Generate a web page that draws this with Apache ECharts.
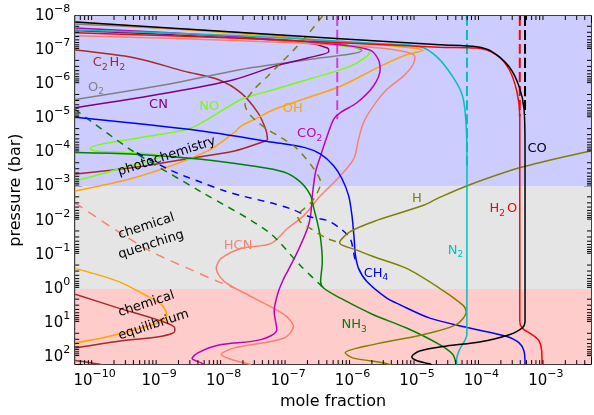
<!DOCTYPE html>
<html><head><meta charset="utf-8">
<script src="https://cdn.jsdelivr.net/npm/echarts@6/dist/echarts.min.js"></script>
<style>html,body{margin:0;padding:0;background:#fff}#c{width:594px;height:415px}</style>
</head><body><div id="c"></div>
<script>
// ---- axis ticks ----
const xTickValues = [1e-10, 1e-9, 1e-8, 1e-7, 1e-6, 1e-5, 1e-4, 1e-3];
const xTickExps = ['\u221210', '\u22129', '\u22128', '\u22127', '\u22126', '\u22125', '\u22124', '\u22123'];
const yTickValues = [1e-8, 1e-7, 1e-6, 1e-5, 1e-4, 1e-3, 1e-2, 1e-1, 1, 10, 100];
const yTickExps = ['\u22128', '\u22127', '\u22126', '\u22125', '\u22124', '\u22123', '\u22122', '\u22121', '0', '1', '2'];
const xRange = [5e-11, 5e-3];
const yRange = [1e-8, 160];
const bandEdges = [1e-8, 1e-3, 1, 160]; // photochemistry / quenching / equilibrium

// ---- profiles: [mole fraction, pressure(bar)] ----
const coSolid = [[5.0e-11,1.5e-8],[1.87e-8,3.06e-8],[2.25e-5,7.0e-8],[8.4e-5,8.0e-8],[1.47e-4,1.12e-7],[2.69e-4,3.06e-7],[3.84e-4,1.17e-6],[4.58e-4,5.5e-6],[4.74e-4,8.0e-5],[4.74e-4,8.8],[4.27e-4,14],[2.69e-4,22],[9.3e-5,36],[2.9e-5,47],[1.1e-5,66],[8.3e-6,98],[1.0e-5,128],[1.58e-5,157],[1.7e-5,170]];
const coDashed = [[4.74e-4,1e-8],[4.74e-4,8e-6]];
const h2oSolid = [[5.0e-11,3.1e-8],[1.87e-8,4.5e-8],[2.25e-5,8.2e-8],[8.4e-5,8.7e-8],[1.7e-4,1.37e-7],[2.69e-4,3.7e-7],[3.57e-4,1.75e-6],[3.93e-4,8.7e-6],[3.93e-4,8.8],[4.27e-4,14],[6.1e-4,22],[7.8e-4,33],[8.6e-4,66],[8.7e-4,170]];
const h2oDashed = [[3.93e-4,1e-8],[3.93e-4,8.7e-6]];
const n2Solid = [[5.0e-11,2.56e-8],[1.87e-8,3.8e-8],[2.68e-6,6.5e-8],[1.1e-5,7.8e-8],[2.0e-5,1.53e-7],[3.56e-5,5.9e-7],[5.1e-5,2.24e-6],[5.8e-5,1.68e-5],[5.96e-5,2.45e-4],[5.94e-5,22],[5.46e-5,34],[4.57e-5,60],[4.15e-5,105],[4.1e-5,170]];
const n2Dashed = [[5.96e-5,1e-8],[5.96e-5,2.45e-4]];
const ch4Solid = [[5.0e-11,9.35e-6],[4.5e-9,2.34e-5],[5.4e-8,4.9e-5],[1.77e-7,7.1e-5],[3.2e-7,1.12e-4],[5.1e-7,2.45e-4],[6.9e-7,6.0e-4],[8.7e-7,1.84e-3],[9.8e-7,7.0e-3],[1.06e-6,0.0335],[1.11e-6,0.103],[1.24e-6,0.25],[1.67e-6,0.61],[3.4e-6,1.87],[5.4e-6,2.9],[1.58e-5,7.2],[6.5e-5,14],[2.4e-4,24.4],[3.84e-4,38],[4.58e-4,67],[4.74e-4,170]];
const ch4Dashed = [[4.5e-10,1.02e-4],[1.55e-9,3.4e-4],[4.5e-9,7.5e-4],[1.0e-8,1.31e-3],[1.84e-8,1.84e-3],[5.4e-8,3.0e-3],[1.1e-7,4.5e-3],[2.24e-7,7.8e-3],[4.05e-7,9.8e-3],[6.5e-7,0.017],[9.2e-7,0.0335],[1.06e-6,0.103],[1.11e-6,0.157]];
const nh3Solid = [[5.0e-11,1.0e-4],[4.2e-10,1.12e-4],[4.5e-9,1.57e-4],[2.67e-8,2.45e-4],[8.6e-8,3.74e-4],[1.55e-7,7.3e-4],[2.24e-7,1.84e-3],[2.52e-7,4.5e-3],[2.84e-7,0.0109],[3.2e-7,0.0335],[3.4e-7,0.16],[3.2e-7,0.61],[3.6e-7,0.958],[6.5e-7,1.87],[2.1e-6,5.7],[6.9e-6,14],[2.25e-5,43],[3.6e-5,84],[4.06e-5,170]];
const nh3Dashed = [[5.0e-11,5.5e-6],[4.2e-10,1.0e-4],[4.5e-9,1.43e-3],[4.9e-8,0.021],[1.55e-7,0.205],[3.6e-7,0.958]];
const hSolid = [[4.93e-3,9.0e-5],[4.27e-4,2.68e-4],[5.86e-5,9.6e-4],[2.02e-5,2.3e-3],[1.23e-5,3.6e-3],[2.09e-6,0.0107],[9.2e-7,0.021],[6.3e-7,0.044],[1.17e-6,0.073],[2.09e-6,0.112],[6.9e-6,0.25],[2.25e-5,0.957],[5.1e-5,2.94],[5.8e-5,4.57],[4.06e-5,11.2],[1.23e-5,22],[2.09e-6,43],[7.7e-7,75],[1.0e-6,105],[2.98e-6,147],[4.0e-6,170]];
const hDashed = [[3.43e-7,1e-8],[2.0e-7,3.57e-8],[1.22e-7,1e-7],[7.8e-8,2.34e-7],[4.8e-8,5.9e-7],[2.96e-8,1.43e-6],[2.15e-8,3.9e-6],[2.67e-8,8.6e-6],[4.8e-8,2.1e-5],[7.8e-8,3.65e-5],[1.4e-7,8.0e-5],[2.52e-7,3.06e-4],[3.2e-7,7.5e-4],[2.52e-7,2.3e-3],[1.77e-7,4.5e-3],[1.4e-7,7.0e-3],[1.55e-7,0.0109],[2.24e-7,0.017],[4.05e-7,0.0335],[6.3e-7,0.044]];
const co2Solid = [[5.0e-11,2.24e-8],[1.87e-8,4.1e-8],[6.5e-7,7.0e-8],[1.88e-6,1.0e-7],[2.52e-6,1.91e-7],[2.68e-6,3.7e-7],[2.1e-6,1.15e-6],[1.17e-6,3.5e-6],[6.5e-7,6.8e-6],[5.1e-7,1.07e-5],[4.05e-7,3.3e-5],[3.2e-7,1.25e-4],[2.67e-7,3.8e-4],[2.38e-7,1.84e-3],[2.24e-7,7.0e-3],[2.0e-7,0.017],[1.4e-7,0.082],[9.8e-8,0.31],[8.6e-8,0.49],[6.95e-8,1.34],[6.1e-8,4.57],[6.7e-8,15.7],[3.8e-8,30.7],[8.2e-9,44.7],[4.0e-9,75],[3.25e-9,110],[4.5e-9,147],[5.0e-9,170]];
const co2Dashed = [[5.8e-7,1e-8],[5.8e-7,1.07e-5]];
const hcnSolid = [[5.0e-11,3.8e-8],[1.87e-8,5.3e-8],[2.68e-6,8.6e-8],[9.3e-6,1.53e-7],[8.7e-6,2.67e-7],[6.1e-6,5.9e-7],[3.4e-6,1.43e-6],[2.1e-6,4.4e-6],[1.48e-6,1.34e-5],[1.24e-6,4.1e-5],[1.04e-6,1.57e-4],[5.8e-7,6.0e-4],[3.2e-7,1.84e-3],[1.77e-7,7.0e-3],[9.8e-8,0.017],[5.4e-8,0.047],[1.86e-8,0.065],[9.2e-9,0.128],[7.7e-9,0.25],[1.03e-8,0.61],[3.0e-8,1.87],[8.7e-8,5.7],[1.21e-7,12.5],[8.7e-8,27.4],[1.48e-8,53.6],[9.2e-9,84],[1.32e-8,117],[2.37e-8,157],[2.7e-8,170]];
const hcnDashed = [[5.0e-11,3.0e-3],[2.36e-10,0.0214],[7.7e-10,0.082],[2.8e-9,0.25],[8.2e-9,0.61],[1.57e-8,1.0]];
const c2h2Upper = [[5.0e-11,1.0e-7],[4.25e-10,1.7e-7],[2.5e-9,4.2e-7],[8.2e-9,7.3e-7],[1.86e-8,1.79e-6],[3.4e-8,6.8e-6],[4.5e-8,2.1e-5],[4.8e-8,4.1e-5],[3.8e-8,5.1e-5],[1.48e-8,9.0e-5],[2.5e-9,1.57e-4],[4.25e-10,2.73e-4],[5.0e-11,4.3e-4]];
const c2h2Lower = [[5.0e-11,1.43],[2.36e-10,3.66],[1.1e-9,8.9],[1.75e-9,14],[1.75e-9,17.5],[1.1e-9,24.4],[2.36e-10,34],[5.0e-11,53.6]];
const c2h2Deep = [[5.0e-11,126],[1.16e-10,160],[1.3e-10,170]];
const o2 = [[5.0e-11,1.71e-8],[1.87e-8,3.1e-8],[6.5e-7,6.5e-8],[1.4e-6,1.03e-7],[2.0e-7,1.91e-7],[1.87e-8,3.7e-7],[1.39e-9,1e-6],[5.0e-11,2.8e-6]];
const cn = [[5.0e-11,2.68e-8],[1.87e-8,4.4e-8],[2.0e-7,6.2e-8],[4.1e-7,8.7e-8],[4.3e-7,1.1e-7],[2.0e-7,1.7e-7],[6.1e-8,3.0e-7],[1.48e-8,7.3e-7],[1.39e-9,1.79e-6],[5.0e-11,4.9e-6]];
const no = [[5.0e-11,2.28e-8],[1.87e-8,4.2e-8],[6.5e-7,7.5e-8],[1.88e-6,1.1e-7],[1.67e-6,1.53e-7],[9.2e-7,3.0e-7],[2.0e-7,7.3e-7],[6.1e-8,1.43e-6],[1.87e-8,2.8e-6],[5.7e-9,1.07e-5],[2.8e-9,2.1e-5],[5.3e-10,3.65e-5],[1.29e-10,5.7e-5],[8.5e-11,7.6e-5],[1.02e-10,9.0e-5],[2.95e-10,1.0e-4],[1.1e-9,1.28e-4],[2.33e-10,3.06e-4],[1.02e-10,4.8e-4],[5.0e-11,6.7e-4]];
const ohUpper = [[5.0e-11,1.47e-8],[1.87e-8,3.3e-8],[6.5e-7,5.7e-8],[1.24e-5,1.03e-7],[6.9e-6,1.37e-7],[2.68e-6,3.0e-7],[6.5e-7,1.15e-6],[2.0e-7,2.5e-6],[6.1e-8,5.5e-6],[3.0e-8,1.07e-5],[1.87e-8,1.68e-5],[1.46e-8,2.6e-5],[5.7e-9,9.0e-5],[5.3e-10,4.8e-4],[5.0e-11,1.34e-3]];
const ohLower = [[5.0e-11,0.25],[2.36e-10,0.61],[6.05e-10,1.5],[1.1e-9,2.94],[1.31e-9,5.7],[1.1e-9,8.9],[4.25e-10,15.7],[1.3e-10,27.4],[5.0e-11,38]];

// ---- annotations ----
const speciesNames = ['C{s|2}H{s|2}', 'O{s|2}', 'CN', 'NO', 'OH', 'CO{s|2}', 'CO', 'H{s|2}O', 'H', 'N{s|2}', 'CH{s|4}', 'HCN', 'NH{s|3}'];
const speciesAt = [[1.73e-10,2.34e-7],[1.09e-10,1.25e-6],[9.8e-10,3.9e-6],[6.0e-9,4.5e-6],[1.18e-7,5.1e-6],[2.24e-7,2.9e-5],[7.3e-4,7.5e-5],[2.18e-4,4.5e-3],[1.0e-5,2.3e-3],[4.1e-5,0.075],[2.4e-6,0.35],[1.68e-8,0.054],[1.1e-6,11.5]];
const regionTexts = ['photochemistry', 'chemical', 'quenching', 'chemical', 'equilibrium'];
const regionAt = [[2.33e-10,3.8e-4],[2.36e-10,0.0268],[2.36e-10,0.103],[2.36e-10,5.1],[2.36e-10,24.4]];

// ---- styling ----
const FONT = 'DejaVu Sans';
const C = {co:'#000000', h2o:'#ff0000', n2:'#00bfbf', ch4:'#0000ff', nh3:'#008000', h:'#808000', co2:'#bf00bf', hcn:'#fa8072', c2h2:'#a52a2a', o2:'#808080', cn:'#800080', no:'#7cfc00', oh:'#ffa500'};
const speciesColors = [C.c2h2, C.o2, C.cn, C.no, C.oh, C.co2, C.co, C.h2o, C.h, C.n2, C.ch4, C.hcn, C.nh3];
const bandColors = ['#ccccff', '#e5e5e5', '#ffcccc'];

const xMinor = [], yMinor = [];
for (let k = -11; k <= -3; k++) for (let m = 2; m <= 9; m++) { const v = m * Math.pow(10, k); if (v > xRange[0] && v < xRange[1]) xMinor.push([v, 1]); }
for (let k = -8; k <= 2; k++) for (let m = 2; m <= 9; m++) { const v = m * Math.pow(10, k); if (v > yRange[0] && v < yRange[1]) yMinor.push([1e-6, v]); }

function tickFmt(values, exps) {
  return function (val) {
    for (let i = 0; i < values.length; i++) {
      if (Math.abs(Math.log10(val) - Math.log10(values[i])) < 1e-6) return '{b|10}{s|' + exps[i] + '}';
    }
    return '';
  };
}
const tickRich = { b: { fontSize: 15, fontFamily: FONT, color: '#000', verticalAlign: 'middle' }, s: { fontSize: 11, fontFamily: FONT, color: '#000', verticalAlign: 'middle', padding: [0, 0, 14, 0] } };

function line(name, data, color, dash, width) {
  return { type: 'line', name: name, data: data, symbol: 'none', showSymbol: false, smooth: 0.3, clip: true, silent: true, z: 3,
    lineStyle: { color: color, width: width || 1.5, type: dash || 'solid' } };
}
const vDash = [10, 4], sDash = [7, 6];
function axisCommon(extra) {
  return Object.assign({ type: 'log', logBase: 10, splitLine: { show: false }, minorTick: { show: false },
    axisLine: { show: true, onZero: false, lineStyle: { color: '#000', width: 1.5 } },
    axisTick: { show: true, inside: true, length: 7, lineStyle: { color: '#000', width: 1 } } }, extra);
}

const series = [
  { type: 'line', data: [], z: 1, silent: true,
    markArea: { silent: true, data: [
      [{ yAxis: bandEdges[0], itemStyle: { color: bandColors[0] } }, { yAxis: bandEdges[1] }],
      [{ yAxis: bandEdges[1], itemStyle: { color: bandColors[1] } }, { yAxis: bandEdges[2] }],
      [{ yAxis: bandEdges[2], itemStyle: { color: bandColors[2] } }, { yAxis: bandEdges[3] }] ] } },
  line('C2H2', c2h2Upper, C.c2h2), line('C2H2', c2h2Lower, C.c2h2), line('C2H2', c2h2Deep, C.c2h2),
  line('O2', o2, C.o2), line('CN', cn, C.cn), line('NO', no, C.no),
  line('OH', ohUpper, C.oh), line('OH', ohLower, C.oh),
  line('HCN eq', hcnDashed, C.hcn, [9, 7]), line('HCN', hcnSolid, C.hcn),
  line('CO2 eq', co2Dashed, '#cc44cc', vDash, 2), line('CO2', co2Solid, C.co2),
  line('NH3 eq', nh3Dashed, C.nh3, sDash), line('NH3', nh3Solid, C.nh3),
  line('CH4 eq', ch4Dashed, C.ch4, sDash), line('CH4', ch4Solid, C.ch4),
  line('H eq', hDashed, C.h, sDash), line('H', hSolid, C.h),
  line('N2 eq', n2Dashed, C.n2, vDash, 2), line('N2', n2Solid, C.n2),
  line('H2O eq', h2oDashed, C.h2o, vDash, 2), line('H2O', h2oSolid, C.h2o),
  line('CO eq', coDashed, C.co, vDash, 2), line('CO', coSolid, C.co),
  { type: 'custom', data: xMinor, z: 10, silent: true, renderItem: function (params, api) {
      const cs = params.coordSys; const p = api.coord([api.value(0), 1]);
      return { type: 'group', children: [
        { type: 'line', shape: { x1: p[0], y1: cs.y + cs.height, x2: p[0], y2: cs.y + cs.height - 4 }, style: { stroke: '#000', lineWidth: 1 } },
        { type: 'line', shape: { x1: p[0], y1: cs.y, x2: p[0], y2: cs.y + 4 }, style: { stroke: '#000', lineWidth: 1 } } ] };
  } },
  { type: 'custom', data: yMinor, z: 10, silent: true, renderItem: function (params, api) {
      const cs = params.coordSys; const p = api.coord([1e-6, api.value(1)]);
      return { type: 'group', children: [
        { type: 'line', shape: { x1: cs.x, y1: p[1], x2: cs.x + 4, y2: p[1] }, style: { stroke: '#000', lineWidth: 1 } },
        { type: 'line', shape: { x1: cs.x + cs.width, y1: p[1], x2: cs.x + cs.width - 4, y2: p[1] }, style: { stroke: '#000', lineWidth: 1 } } ] };
  } },
  { type: 'custom', data: speciesAt.map(function (d, i) { return [d[0], d[1], i]; }), z: 12, silent: true, renderItem: function (params, api) {
      const i = api.value(2); const p = api.coord([api.value(0), api.value(1)]);
      return { type: 'text', x: p[0], y: p[1], style: { text: speciesNames[i], fill: speciesColors[i], fontSize: 13, fontFamily: FONT, align: 'center', verticalAlign: 'middle',
        rich: { s: { fontSize: 9, fontFamily: FONT, verticalAlign: 'middle', padding: [9, 2, 0, 0] } } } };
  } },
  { type: 'custom', data: regionAt.map(function (d, i) { return [d[0], d[1], i]; }), z: 12, silent: true, renderItem: function (params, api) {
      const i = api.value(2); const p = api.coord([api.value(0), api.value(1)]);
      return { type: 'text', x: p[0], y: p[1], rotation: 18 * Math.PI / 180, style: { text: regionTexts[i], fill: '#000', fontSize: 13, fontFamily: FONT, align: 'left', verticalAlign: 'middle' } };
  } }
];

const chart = echarts.init(document.getElementById('c'), null, { renderer: 'canvas' });
chart.setOption({
  animation: false,
  backgroundColor: '#ffffff',
  grid: { left: 73, right: 2, top: 16, bottom: 49, containLabel: false },
  xAxis: [
    axisCommon({ position: 'bottom', min: xRange[0], max: xRange[1],
      axisLabel: { margin: 5, formatter: tickFmt(xTickValues, xTickExps), rich: tickRich },
      name: 'mole fraction', nameLocation: 'middle', nameGap: 27, nameTextStyle: { fontSize: 16, fontFamily: FONT, color: '#000' } }),
    axisCommon({ position: 'top', min: xRange[0], max: xRange[1], axisLabel: { show: false } })
  ],
  yAxis: [
    axisCommon({ position: 'left', inverse: true, min: yRange[0], max: yRange[1], interval: 1,
      axisLabel: { margin: 5, formatter: tickFmt(yTickValues, yTickExps), rich: tickRich },
      name: 'pressure (bar)', nameLocation: 'middle', nameGap: 44, nameRotate: 90, nameTextStyle: { fontSize: 16, fontFamily: FONT, color: '#000' } }),
    axisCommon({ position: 'right', inverse: true, min: yRange[0], max: yRange[1], interval: 1, axisLabel: { show: false } })
  ],
  series: series
});
</script></body></html>
